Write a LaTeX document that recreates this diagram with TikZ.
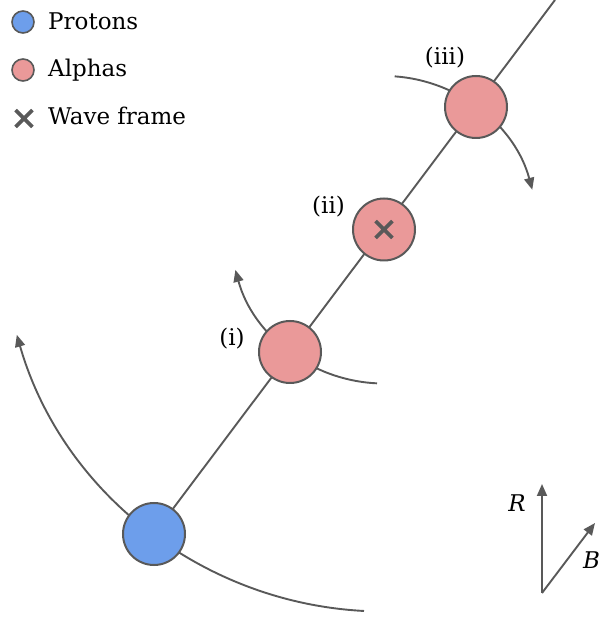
\documentclass[tikz,border=0pt]{standalone}
\usepackage{fontspec}
\setmainfont{DejaVu Serif}
\usetikzlibrary{arrows.meta,backgrounds,shapes.misc}
\definecolor{pblue}{HTML}{6D9EEB}
\definecolor{apink}{HTML}{EA9999}
\definecolor{dgray}{HTML}{595959}
\begin{document}
\begin{tikzpicture}[x=1pt,y=1pt,
  ptcl/.style={circle,draw=dgray,line width=2pt,inner sep=0pt,minimum size=62pt},
  proton/.style={ptcl,fill=pblue},
  alpha/.style={ptcl,fill=apink},
  lgd/.style={circle,draw=dgray,line width=1.6pt,inner sep=0pt,minimum size=22pt},
  conn/.style={draw=dgray,line width=1.9pt},
  arr/.style={conn,-{Triangle[length=12pt,width=10pt]}},
  lbl/.style={font=\fontsize{23}{27}\selectfont,text=black,inner sep=0pt},
  xmark/.style={cross out,draw=dgray,line width=3.8pt,minimum size=13pt,inner sep=0pt}
]
\useasboundingbox (0,0) rectangle (600,619);

% particles
\node[proton] (P) at (154,85) {};
\node[alpha] (A1) at (290,267) {};
\node[alpha] (A2) at (384,389.5) {};
\node[alpha] (A3) at (476,512) {};
\node[xmark] (X) at (A2.center) {};
\coordinate (top) at (555,619);

% labels
\node[lbl] (l1) at (232,280) {(i)};
\node[lbl] (l2) at (328.5,412.5) {(ii)};
\node[lbl] (l3) at (445,561) {(iii)};

% legend
\node[lgd,fill=pblue] (LP) at (23,597) {};
\node[lbl,anchor=base west] (tP) at (48,589) {Protons};
\node[lgd,fill=apink] (LA) at (23,549) {};
\node[lbl,anchor=base west] (tA) at (48,542) {Alphas};
\node[xmark] (LX) at (24,500.5) {};
\node[lbl,anchor=base west] (tX) at (48,494) {Wave frame};

% axes
\coordinate (O) at (542,26);
\coordinate (Rt) at (542,135);
\coordinate (Bt) at (595,96);
\draw[arr] (O) -- (Rt);
\draw[arr] (O) -- (Bt);
\node[lbl] (Rl) at (517,116) {\itshape R};
\node[lbl,anchor=west] (Bl) at (583,59) {\itshape B};

\begin{pgfonlayer}{background}
\draw[conn] (P.center) -- (top);
\draw[arr] ([shift={(267:382)}]A2.center) arc[start angle=267,end angle=196,radius=382];
\draw[arr] ([shift={(267.4:154)}]A2.center) arc[start angle=267.4,end angle=195.2,radius=154];
\draw[arr] ([shift={(86:153.5)}]A2.center) arc[start angle=86,end angle=15,radius=153.5];
\end{pgfonlayer}
\end{tikzpicture}
\end{document}
